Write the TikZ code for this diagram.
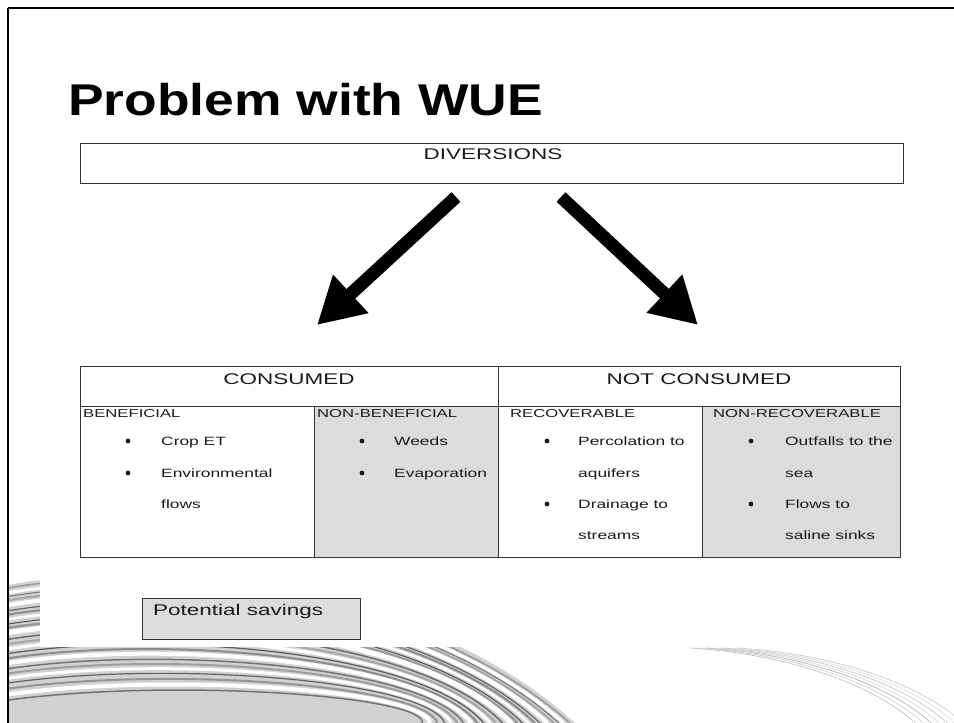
\documentclass[tikz,border=0pt]{standalone}
\usepackage{fontspec}
\setmainfont{Liberation Sans}
\newfontfamily\titlefont[FakeStretch=1.2]{Liberation Sans}
\newfontfamily\tabfont[FakeStretch=1.45]{Liberation Sans}
\usetikzlibrary{arrows.meta}
\definecolor{cellgray}{HTML}{DCDCDC}
\definecolor{linegray}{HTML}{333333}
\definecolor{txt}{HTML}{1A1A1A}
\tikzset{
  cellline/.style={draw=linegray, line width=1pt},
  hdr/.style={font=\tabfont\fontsize{15.5}{18}\selectfont, text=txt, inner sep=0pt},
  subhdr/.style={font=\tabfont\fontsize{11.5}{14}\selectfont, text=txt, inner sep=0pt, anchor=base west},
  item/.style={font=\tabfont\fontsize{12}{14}\selectfont, text=txt, inner sep=0pt, anchor=base west},
  bul/.style={circle, fill=txt, inner sep=0pt, minimum size=4.8pt},
  bigarrow/.style={line width=13pt, -{Triangle[length=46pt,width=49pt]}},
}
\begin{document}
\begin{tikzpicture}[x=1pt,y=-1pt]
\useasboundingbox (0,0) rectangle (954,723);
\fill[white] (0,0) rectangle (954,723);
% decorative swirl background
\begin{scope}
\clip (8,8) rectangle (954,723);
\fill[black!18] (8,585) .. controls (170,555) and (430,590) .. (575,723) -- (8,723) -- cycle;
\foreach \k/\c/\w in {0/black!40/1.5,5/white/3,9/black!55/1,13/black!35/2,18/white/4,24/black!60/1.2,28/black!45/2,33/white/2.5,38/black!70/1,42/black!40/2.5,47/white/5,54/black!58/1.5,59/black!35/2,64/white/3,69/black!65/1.2,74/black!45/2,79/white/4,85/black!55/1.5,90/black!38/2,95/white/3,100/black!62/1.2,106/black!42/2,112/white/4,118/black!55/1.5}{
  \draw[color=\c, line width=\w pt] (8,{588+\k*0.95}) .. controls (170,{560+\k}) and (425,{595+\k*0.85}) .. ({570-\k*1.25},723);
}
\foreach \r/\g in {0/22,8/16,16/26,24/14,32/20,40/12,48/18}{
  \draw[black!\g, line width=0.8pt] ({690+\r},648) .. controls ({800+\r},655) and ({880+\r},690) .. ({915+\r},723);
}
\end{scope}
% pasted white area
\fill[white] (40,130) rectangle (912,647);
% frame
\draw[black, line width=2.6pt] (8,8) -- (960,8);
\draw[black, line width=2.6pt] (8,8) -- (8,730);
% title
\node[anchor=base west, inner sep=0pt, font=\titlefont\bfseries\fontsize{44.5}{50}\selectfont] (title) at (68,115) {Problem with WUE};
% diversions box
\draw[cellline] (80,143) rectangle (903,183);
\node[hdr, anchor=base] (div) at (493,159) {DIVERSIONS};
% arrows
\coordinate (la) at (456,197);
\coordinate (lb) at (317,325);
\coordinate (ra) at (561,197);
\coordinate (rb) at (698,325);
\draw[bigarrow] (la) -- (lb);
\draw[bigarrow] (ra) -- (rb);
% table
\fill[cellgray] (314,406) rectangle (498,557);
\fill[cellgray] (702,406) rectangle (900,557);
\draw[cellline] (80,366) rectangle (900,557);
\draw[cellline] (80,406) -- (900,406);
\draw[cellline] (498,366) -- (498,557);
\draw[cellline] (314,406) -- (314,557);
\draw[cellline] (702,406) -- (702,557);
\node[hdr, anchor=base] (cons) at (289,384) {CONSUMED};
\node[hdr, anchor=base] (ncons) at (699,384) {NOT CONSUMED};
\node[subhdr] (ben) at (83,417) {BENEFICIAL};
\node[subhdr] (nben) at (317,417) {NON-BENEFICIAL};
\node[subhdr] (rec) at (510,417) {RECOVERABLE};
\node[subhdr] (nrec) at (713,417) {NON-RECOVERABLE};
% column 1
\node[bul] (b1) at (128,441) {};
\node[item] (t1) at (161,445) {Crop ET};
\node[bul] (b2) at (128,473) {};
\node[item] (t2) at (161,477) {Environmental};
\node[item] (t3) at (161,508) {flows};
% column 2
\node[bul] (b3) at (362,441) {};
\node[item] (t4) at (394,445) {Weeds};
\node[bul] (b4) at (362,473) {};
\node[item] (t5) at (394,477) {Evaporation};
% column 3
\node[bul] (b5) at (547,441) {};
\node[item] (t6) at (578,445) {Percolation to};
\node[item] (t7) at (578,477) {aquifers};
\node[bul] (b6) at (547,504) {};
\node[item] (t8) at (578,508) {Drainage to};
\node[item] (t9) at (578,539) {streams};
% column 4
\node[bul] (b7) at (751,441) {};
\node[item] (t10) at (785,445) {Outfalls to the};
\node[item] (t11) at (785,477) {sea};
\node[bul] (b8) at (751,504) {};
\node[item] (t12) at (785,508) {Flows to};
\node[item] (t13) at (785,539) {saline sinks};
% potential savings
\draw[cellline, fill=cellgray] (142,598) rectangle (360,639);
\node[hdr, anchor=base west] (pot) at (153,615) {Potential savings};
\end{tikzpicture}
\end{document}
